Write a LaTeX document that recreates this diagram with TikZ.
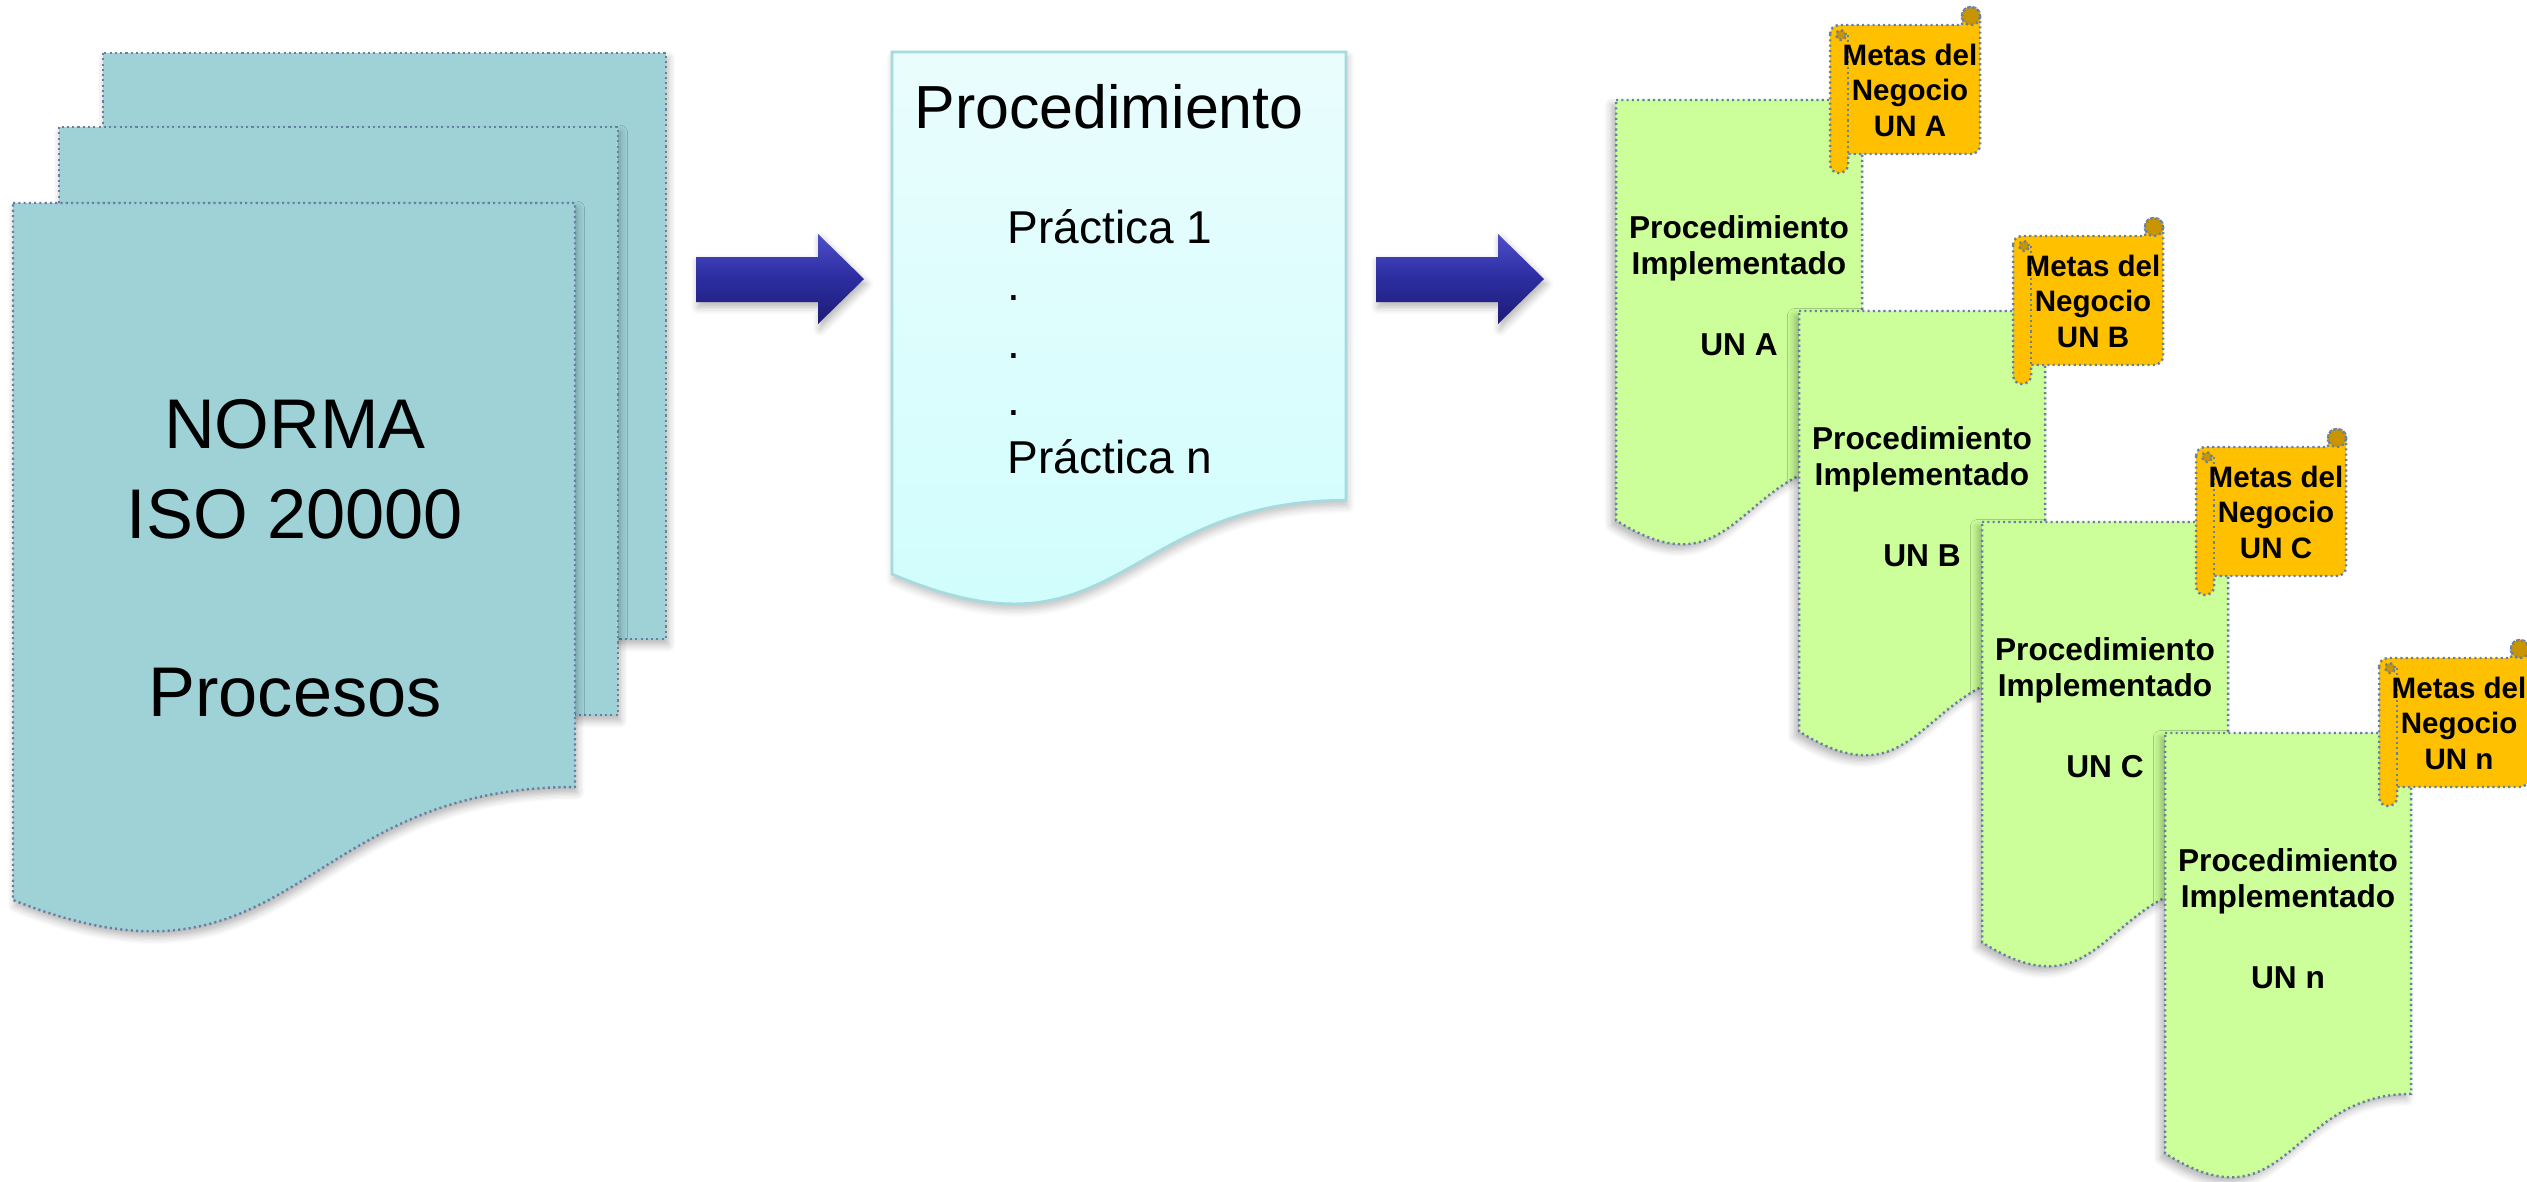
\documentclass[tikz,border=0pt]{standalone}
\usepackage{fontspec}
\setmainfont{Liberation Sans}
\usetikzlibrary{shadows.blur}

\definecolor{stackfill}{HTML}{9ED2D7}
\definecolor{edgeblue}{HTML}{667FA3}
\definecolor{procedge}{HTML}{A6DADE}
\definecolor{proctop}{HTML}{EAFDFD}
\definecolor{procbot}{HTML}{CEFDFD}
\definecolor{docgreen}{HTML}{CCFF99}
\definecolor{flaggold}{HTML}{FFC000}
\definecolor{flagdark}{HTML}{C89500}
\definecolor{arrowlight}{HTML}{4E4EC8}
\definecolor{arrowmid}{HTML}{2C2CA0}
\definecolor{arrowdark}{HTML}{1C1C74}

\tikzset{
  dotedge/.style={draw=edgeblue, line width=0.7pt, dash pattern=on 0.6pt off 0.9pt},
  stackpage/.style={fill=stackfill, dotedge,
    blur shadow={shadow xshift=0.6pt, shadow yshift=-1.6pt, shadow blur steps=6, shadow opacity=30}},
  procpage/.style={top color=proctop, bottom color=procbot, draw=procedge, line width=0.8pt,
    blur shadow={shadow xshift=0.4pt, shadow yshift=-1.6pt, shadow blur steps=6, shadow opacity=25}},
  greenpage/.style={fill=docgreen, dotedge,
    blur shadow={shadow xshift=-1.2pt, shadow yshift=-1.4pt, shadow blur steps=6, shadow opacity=30}},
  blockarrow/.style={top color=arrowlight, bottom color=arrowdark, middle color=arrowmid,
    blur shadow={shadow xshift=0.6pt, shadow yshift=-1.4pt, shadow blur steps=5, shadow opacity=30}},
  scrollbody/.style={fill=flaggold, dotedge},
  scrollcurl/.style={fill=flagdark, dotedge},
  bigtxt/.style={font=\fontsize{20}{24}\selectfont, inner sep=0pt, anchor=base},
  titletxt/.style={font=\fontsize{17.3}{20}\selectfont, inner sep=0pt, anchor=base west},
  practxt/.style={font=\fontsize{13.1}{16}\selectfont, inner sep=0pt, anchor=base west},
  greentxt/.style={font=\bfseries\fontsize{9}{11}\selectfont, inner sep=0pt, anchor=base},
  flagtxt/.style={font=\bfseries\fontsize{8.4}{10}\selectfont, inner sep=0pt, anchor=base},
  docpath/.style n args={4}{insert path={(#1,#2) -- ({#1+#3},#2) -- ({#1+#3},{#2+0.802*#4})
    .. controls ({#1+0.5*#3},{#2+0.802*#4}) and ({#1+0.5*#3},{#2+1.1075*#4}) .. (#1,{#2+0.934*#4}) -- cycle}},
}

\begin{document}
\begin{tikzpicture}[x=0.01cm, y=-0.01cm]
\useasboundingbox (0,0) rectangle (2527,1181);

% stack of standard pages
\path[stackpage] (103,53) rectangle (666,639);
\path[stackpage] (59,127) rectangle (618,715);
\path[stackpage] (13,203) -- (575,203) -- (575,787)
  .. controls (294,787) and (294,1012) .. (13,900) -- cycle;
\node[bigtxt] (norma) at (295,448) {NORMA};
\node[bigtxt] (iso) at (295,538) {ISO 20000};
\node[bigtxt] (procesos) at (295,716) {Procesos};

% first block arrow
\path[blockarrow] (696,257) -- (818,257) -- (818,234) -- (864,279) -- (818,324) -- (818,302) -- (696,302) -- cycle;

% procedure page
\path[procpage, docpath={892}{52}{454}{559}];
\node[titletxt] (proctitle) at (914,128) {Procedimiento};
\node[practxt] (prac1) at (1007,243) {Práctica 1};
\node[practxt] (dot1) at (1007,300.5) {.};
\node[practxt] (dot2) at (1007,358) {.};
\node[practxt] (dot3) at (1007,415.5) {.};
\node[practxt] (pracn) at (1007,473) {Práctica n};

% second block arrow
\path[blockarrow] (1376,257) -- (1498,257) -- (1498,234) -- (1544,279) -- (1498,324) -- (1498,302) -- (1376,302) -- cycle;

% implemented procedures, one per business unit, each with its scroll
\foreach \i/\lab in {0/A,1/B,2/C,3/n}{
  \pgfmathsetmacro{\dx}{1616+183*\i}
  \pgfmathsetmacro{\dy}{100+211*\i}
  \path[greenpage, docpath={\dx}{\dy}{246}{450}];
  \node[greentxt] (proc\lab) at ({\dx+123},{\dy+138}) {Procedimiento};
  \node[greentxt] (impl\lab) at ({\dx+123},{\dy+174}) {Implementado};
  \node[greentxt] (un\lab) at ({\dx+123},{\dy+255}) {UN \lab};
  \begin{scope}[shift={({\dx+214},{\dy-93})}]
    \path[scrollbody] (0,27) -- (0,157) .. controls (0,169) and (18,169) .. (18,157)
      -- (18,147) -- (141,147) .. controls (146,147) and (150,143) .. (150,138)
      -- (150,9) .. controls (150,-3) and (132,-3) .. (132,9)
      -- (132,18) -- (9,18) .. controls (4,18) and (0,22) .. (0,27) -- cycle;
    \draw[dotedge] (18,28) -- (18,147);
    \path[scrollcurl] (141,9) circle (2.56pt);
    \path[scrollcurl] (11,28) circle (1.4pt);
    \node[flagtxt] (meta\lab) at (80,58) {Metas del};
    \node[flagtxt] (neg\lab) at (80,93) {Negocio};
    \node[flagtxt] (unf\lab) at (80,129) {UN \lab};
  \end{scope}
}
\end{tikzpicture}
\end{document}
